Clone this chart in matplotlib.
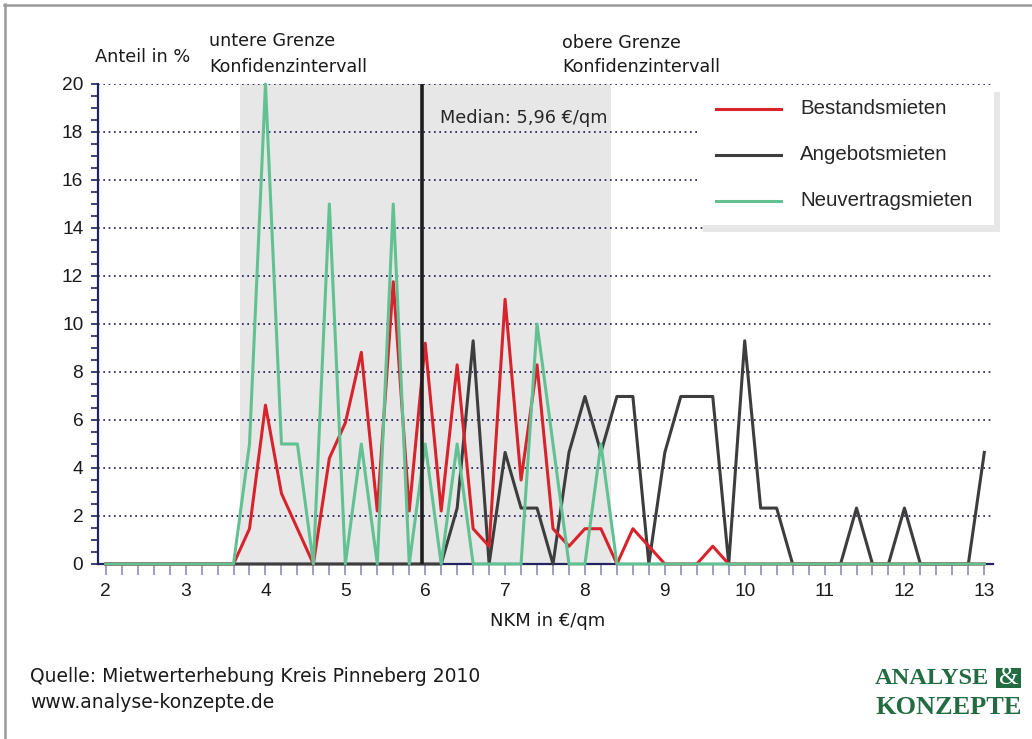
import matplotlib
matplotlib.use('Agg')
import matplotlib.pyplot as plt
import numpy as np
from matplotlib.lines import Line2D
from matplotlib.patches import Rectangle

W, H = 1032, 739

# Mietpreisverteilung, Anteil in % je 0,20 €/qm Klasse (2,00 ... 13,00)
nkm = np.linspace(2, 13, 56)
bestand = [0, 0, 0, 0, 0, 0, 0, 0, 0, 1.47, 6.62, 2.94, 1.47, 0, 4.41, 5.88,
           8.82, 2.21, 11.76, 2.21, 9.2, 2.21, 8.3, 1.47, 0.74, 11.03, 3.5, 8.3,
           1.47, 0.74, 1.47, 1.47, 0, 1.47, 0.74, 0, 0, 0, 0.74, 0, 0, 0,
           0, 0, 0, 0, 0, 0, 0, 0, 0, 0, 0, 0, 0, 0]
angebot = [0, 0, 0, 0, 0, 0, 0, 0, 0, 0, 0, 0, 0, 0, 0, 0,
           0, 0, 0, 0, 0, 0, 2.33, 9.3, 0, 4.65, 2.33, 2.33, 0, 4.65, 6.98, 4.65,
           6.98, 6.98, 0, 4.65, 6.98, 6.98, 6.98, 0, 9.3, 2.33, 2.33, 0, 0, 0,
           0, 2.33, 0, 0, 2.33, 0, 0, 0, 0, 4.65]
neuvertrag = [0, 0, 0, 0, 0, 0, 0, 0, 0, 5, 20, 5, 5, 0, 15, 0,
              5, 0, 15, 0, 5, 0, 5, 0, 0, 0, 0, 10, 5, 0, 0, 5,
              0, 0, 0, 0, 0, 0, 0, 0, 0, 0, 0, 0, 0, 0, 0, 0,
              0, 0, 0, 0, 0, 0, 0, 0]
series_names = ['Bestandsmieten', 'Angebotsmieten', 'Neuvertragsmieten']
series_colors = ['#d8232d', '#3d3d3d', '#62c193']

median_nkm = 5.96
ki_lower, ki_upper = 3.68, 8.33

NAVY = '#23235f'
GREEN_LOGO = '#236b41'


def fx(px):
    return px / W


def fy(py):
    return 1 - py / H


fig = plt.figure(figsize=(W / 100, H / 100), dpi=100)
fig.patch.set_facecolor('white')

ax = fig.add_axes([fx(98.3), fy(564), (992.7 - 98.3) / W, (564 - 84) / H])
ax.set_xlim(1.907, 13.105)
ax.set_ylim(0, 20)

ax.axvspan(ki_lower, ki_upper, color='#e6e7e6', zorder=0.2, lw=0)

# order: Angebot below, Neuvertrag on top
ax.plot(nkm, angebot, color=series_colors[1], lw=2.2, zorder=3, clip_on=False)
ax.plot(nkm, bestand, color=series_colors[0], lw=2.2, zorder=4, clip_on=False)
ax.plot(nkm, neuvertrag, color=series_colors[2], lw=2.2, zorder=5, clip_on=False)

ax.axvline(median_nkm, color='#1e1e1e', lw=2.6, zorder=6)
ax.text(6.18, 18.58, 'Median: 5,96 €/qm', ha='left', va='center',
        fontsize=12.8, family='DejaVu Sans', color='#262626')

# grid
ax.set_axisbelow(True)
ax.yaxis.grid(True, color='#14144f', linestyle=(0, (1, 2.2)), lw=1.2)
ax.xaxis.grid(False)

# ticks
ax.set_xticks(range(2, 14))
ax.set_xticks(np.arange(2, 13.01, 0.2), minor=True)
ax.set_yticks(range(0, 21, 2))
ax.set_yticks(np.arange(0, 20.01, 0.5), minor=True)
ax.tick_params(axis='x', which='both', direction='out', length=8, width=1.2,
               color='#8d8db5', pad=6, labelsize=13.8, labelcolor='#1a1a1a')
ax.tick_params(axis='y', which='both', direction='out', length=4.8, width=1.2,
               color=NAVY, pad=6, labelsize=13.8, labelcolor='#1a1a1a')
for lab in ax.get_xticklabels() + ax.get_yticklabels():
    lab.set_family('Liberation Sans')

for s in ['top', 'right']:
    ax.spines[s].set_visible(False)
for s in ['left', 'bottom']:
    ax.spines[s].set_color(NAVY)
    ax.spines[s].set_linewidth(1.6)

# axis labels / annotations
txt = dict(family='DejaVu Sans', color='#1a1a1a', va='center')
fig.text(fx(95), fy(57), 'Anteil in %', fontsize=12.8, **txt)
fig.text(fx(209), fy(41), 'untere Grenze', fontsize=12.6, **txt)
fig.text(fx(209), fy(67), 'Konfidenzintervall', fontsize=12.6, **txt)
fig.text(fx(562), fy(43), 'obere Grenze', fontsize=12.6, **txt)
fig.text(fx(562), fy(67), 'Konfidenzintervall', fontsize=12.6, **txt)
fig.text(fx(548), fy(621), 'NKM in €/qm', fontsize=13, ha='center', **txt)
fig.text(fx(30), fy(677), 'Quelle: Mietwerterhebung Kreis Pinneberg 2010', fontsize=13.5, **txt)
fig.text(fx(30), fy(702), 'www.analyse-konzepte.de', fontsize=13.5, **txt)

# legend (box with shadow)
fig.add_artist(Rectangle((fx(703), fy(232)), (1000 - 703) / W, (232 - 92) / H,
                         transform=fig.transFigure, color='#e6e7e6', lw=0, zorder=2))
fig.add_artist(Rectangle((fx(697), fy(225)), (994 - 697) / W, (225 - 86) / H,
                         transform=fig.transFigure, color='white', lw=0, zorder=3))
for i, (name, col) in enumerate(zip(series_names, series_colors)):
    yy = fy(109 + 46 * i)
    fig.add_artist(Line2D([fx(716), fx(781)], [yy, yy], transform=fig.transFigure,
                          color=col, lw=2.2, zorder=4))
    fig.text(fx(800), yy, name, fontsize=14.7, family='Liberation Sans',
             color='#262626', va='center', zorder=4)

# frame
fig.add_artist(Line2D([fx(4), 1], [fy(5), fy(5)], transform=fig.transFigure,
                      color='#9a9a9a', lw=1.8))
fig.add_artist(Line2D([fx(5), fx(5)], [fy(4), 0], transform=fig.transFigure,
                      color='#9a9a9a', lw=1.8))

# logo
fig.text(fx(875), fy(679), 'ANALYSE', fontsize=17.6, family='Liberation Serif',
         weight='bold', color=GREEN_LOGO, va='center')
fig.text(fx(875), fy(708), 'KONZEPTE', fontsize=19, family='Liberation Serif',
         weight='bold', color=GREEN_LOGO, va='center')
fig.add_artist(Rectangle((fx(996), fy(688)), 25 / W, 20 / H,
                         transform=fig.transFigure, color=GREEN_LOGO, lw=0))
fig.text(fx(1008.5), fy(677.5), '&', fontsize=18, family='Liberation Serif',
         color='white', ha='center', va='center', zorder=5)

fig.savefig('out.png', dpi=100, facecolor='white')
